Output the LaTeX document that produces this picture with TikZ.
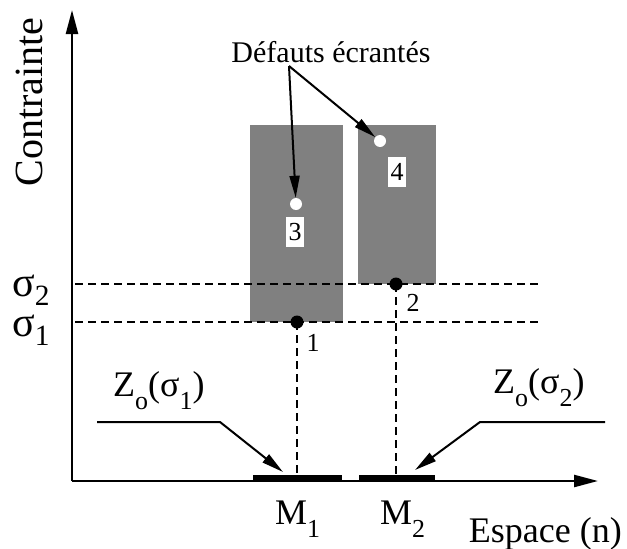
\documentclass[tikz,border=0pt]{standalone}
\usepackage{fontspec}
\setmainfont{Liberation Serif}
\usetikzlibrary{arrows.meta}
\definecolor{blockgray}{RGB}{128,128,128}
\newcommand{\lsub}[1]{\raisebox{-0.38em}{\scalebox{0.72}{#1}}}
\newcommand{\ssub}[1]{\raisebox{-0.22em}{\scalebox{0.7}{#1}}}
\begin{document}
\begin{tikzpicture}[x=1pt,y=-1pt,
  axis/.style={line width=2.4pt,-{Triangle[length=24pt,width=12pt]}},
  lead/.style={line width=2pt,-{Triangle[length=22pt,width=10pt]}},
  dsh/.style={line width=2pt,dash pattern=on 8pt off 5pt},
  bigtxt/.style={font=\fontsize{36}{40}\selectfont,inner sep=0pt},
  sigtxt/.style={font=\fontsize{42}{46}\selectfont,inner sep=0pt},
  smtxt/.style={font=\fontsize{26}{28}\selectfont,inner sep=0pt},
  bdot/.style={circle,fill=black,minimum size=13pt,inner sep=0pt},
  wdot/.style={circle,fill=white,minimum size=12pt,inner sep=0pt},
  numbox/.style={fill=white,font=\fontsize{26}{28}\selectfont,minimum width=18pt,minimum height=30pt,inner sep=0pt},
  bar/.style={line width=6pt}]
\useasboundingbox (0,0) rectangle (627,549);
% gray blocks
\fill[blockgray] (250,125) rectangle (343,322);
\fill[blockgray] (358,125) rectangle (436,284);
% axes
\coordinate (O) at (72,481);
\coordinate (ytip) at (72,10);
\coordinate (xtip) at (598,481);
% dashed levels
\coordinate (s2l) at (75,284);
\coordinate (s2r) at (540,284);
\coordinate (s1l) at (75,322);
\coordinate (s1r) at (540,322);
\draw[dsh] (s2l) -- (s2r);
\draw[dsh] (s1l) -- (s1r);
% points
\node[bdot] (p1) at (297,322) {};
\node[bdot] (p2) at (396,284) {};
\draw[dsh] (p1.center) -- (p1.center |- O);
\draw[dsh] (p2.center) -- (p2.center |- O);
% thick bars
\coordinate (m1a) at (253,478);
\coordinate (m1b) at (342,478);
\coordinate (m2a) at (359,478);
\coordinate (m2b) at (435,478);
\draw[bar] (m1a) -- (m1b);
\draw[bar] (m2a) -- (m2b);
\draw[axis] (O) -- (ytip);
\draw[axis] (O) -- (xtip);
% labels of points
\node[smtxt] (n1) at (313,343) {1};
\node[smtxt] (n2) at (413,303) {2};
% white defects
\node[wdot] (d3) at (296,204) {};
\node[wdot] (d4) at (380,141) {};
\node[numbox] (b3) at (295,232) {3};
\node[numbox] (b4) at (397,172) {4};
% title and arrows
\node[font=\fontsize{30}{34}\selectfont,inner sep=0pt,anchor=base] (def) at (331,62) {Défauts écrantés};
\coordinate (src) at (289,66);
\draw[lead] (src) -- (d3);
\draw[lead] (src) -- (d4);
% axis labels
\node[font=\fontsize{40}{44}\selectfont,inner sep=0pt,rotate=90,anchor=base] (ylab) at (42,102) {Contrainte};
\node[font=\fontsize{36}{40}\selectfont,inner sep=0pt,anchor=base east] (xlab) at (622,542) {Espace (n)};
\node[sigtxt,anchor=base west] (sig2) at (12,296) {σ\ssub{2}};
\node[sigtxt,anchor=base west] (sig1) at (12,336) {σ\ssub{1}};
\node[bigtxt,anchor=base west] (M1) at (275,524) {M\lsub{1}};
\node[bigtxt,anchor=base west] (M2) at (380,524) {M\lsub{2}};
% Z labels
\node[bigtxt,anchor=base west] (z1) at (113,396) {Z\lsub{o}(σ\lsub{1})};
\node[bigtxt,anchor=base west] (z2) at (493,393) {Z\lsub{o}(σ\lsub{2})};
\coordinate (z1s) at (97,422);
\coordinate (z1k) at (220,422);
\coordinate (z1t) at (283,472);
\coordinate (z2s) at (605,422);
\coordinate (z2k) at (480,422);
\coordinate (z2t) at (415,470);
\draw[lead] (z1s) -- (z1k) -- (z1t);
\draw[lead] (z2s) -- (z2k) -- (z2t);
\end{tikzpicture}
\end{document}
